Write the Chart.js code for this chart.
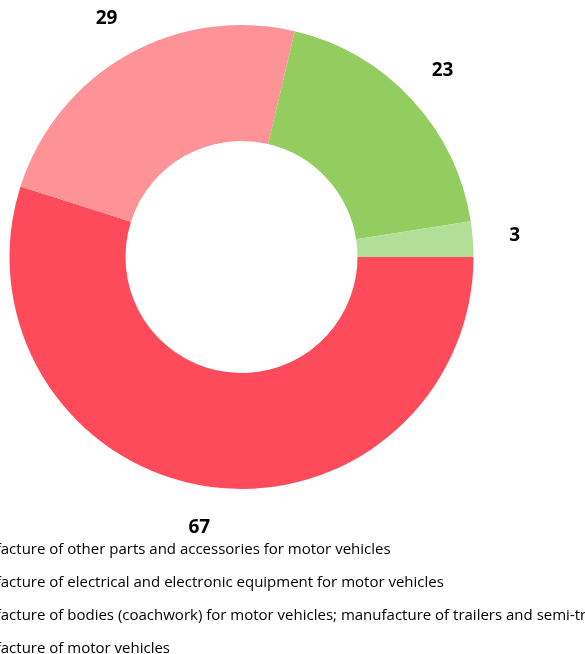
<!DOCTYPE html>
<html>
<head>
<meta charset="utf-8">
<script src="https://cdn.jsdelivr.net/npm/chart.js@4/dist/chart.umd.min.js"></script>
<style>
  html, body { margin: 0; padding: 0; background: #fff; overflow: hidden; width: 585px; height: 654px; }
  #chartDonut { position: absolute; left: -112px; top: -10px; }
</style>
</head>
<body>
<canvas id="chartDonut" width="707" height="676"></canvas>
<script>
// datos del gráfico (orden horario desde las 3 en punto)
const categorias = [
    'Manufacture of motor vehicles',
    'Manufacture of bodies (coachwork) for motor vehicles; manufacture of trailers and semi-trailers',
    'Manufacture of electrical and electronic equipment for motor vehicles',
    'Manufacture of other parts and accessories for motor vehicles'
];
const valores = [67, 29, 23, 3];
const colores = ['#fe4b5b', '#fe9397', '#93cc5f', '#b2df97'];

// etiquetas con el valor fuera del anillo
const etiquetasFuera = {
    id: 'etiquetasFuera',
    afterDatasetsDraw(chart) {
        const ctx = chart.ctx;
        const meta = chart.getDatasetMeta(0);
        ctx.save();
        ctx.font = 'bold 19px "Open Sans"';
        ctx.fillStyle = '#000';
        ctx.textAlign = 'center';
        ctx.textBaseline = 'middle';
        meta.data.forEach((arc, i) => {
            const p = arc.getProps(['x', 'y', 'startAngle', 'endAngle', 'outerRadius'], true);
            const mid = (p.startAngle + p.endAngle) / 2;
            const r = p.outerRadius + 42;
            ctx.fillText(String(valores[i]), p.x + Math.cos(mid) * r, p.y + Math.sin(mid) * r);
        });
        ctx.restore();
    }
};

const ctxDonut = document.getElementById('chartDonut').getContext('2d');
new Chart(ctxDonut, {
    type: 'doughnut',
    data: {
        labels: categorias,
        datasets: [{
            data: valores,
            backgroundColor: colores,
            borderWidth: 0,
            radius: 232,
            cutout: '50%'
        }]
    },
    options: {
        responsive: false,
        animation: false,
        rotation: 90,
        layout: { padding: 0 },
        plugins: {
            legend: {
                position: 'bottom',
                align: 'start',
                reverse: true,
                labels: {
                    boxWidth: 42,
                    padding: 18,
                    color: '#000',
                    font: { family: 'Open Sans', size: 15 }
                }
            },
            tooltip: { enabled: false }
        }
    },
    plugins: [etiquetasFuera]
});
</script>
</body>
</html>
